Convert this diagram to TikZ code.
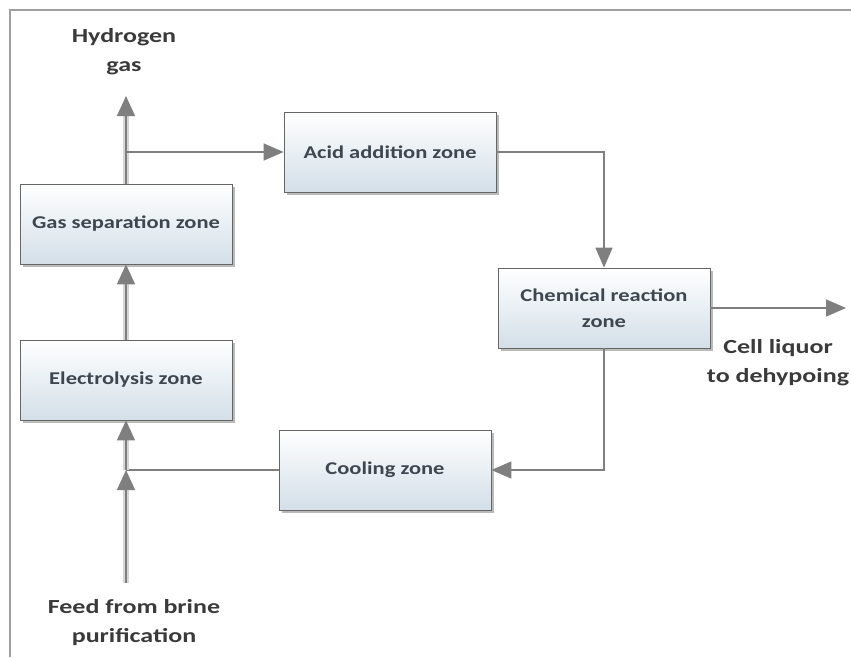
\documentclass[tikz,border=0pt]{standalone}
\usepackage{fontspec}
\setmainfont{Carlito}
\newfontfamily\boxfont[FakeStretch=1.25]{Carlito}
\newfontfamily\lblfont[FakeStretch=1.3]{Carlito}
\usetikzlibrary{arrows.meta,shadows}
\definecolor{boxtxt}{HTML}{3E4750}
\definecolor{lbltxt}{HTML}{3A3A3A}
\definecolor{boxbot}{HTML}{D3DFE8}
\definecolor{linegray}{HTML}{7F7F7F}
\begin{document}
\begin{tikzpicture}[x=1pt,y=-1pt,
  zone/.style={draw=gray!80!black, line width=0.8pt, top color=white, bottom color=boxbot,
    drop shadow={shadow xshift=2.5pt, shadow yshift=-3pt, fill=black!45, opacity=0.6},
    minimum width=212pt, minimum height=80pt, align=center,
    font=\boxfont\bfseries\fontsize{18}{26}\selectfont, text=boxtxt, inner sep=2pt},
  lbl/.style={align=center, font=\lblfont\bfseries\fontsize{20}{29}\selectfont, text=lbltxt},
  flow/.style={draw=linegray, line width=1.5pt, -{Triangle[length=20pt,width=17pt]}},
  link/.style={draw=linegray, line width=1.5pt},
  main/.style={draw=linegray, line width=1.6pt, -{Triangle[length=20pt,width=18pt]},
    preaction={draw=gray!32, line width=6pt, -, shorten >=16pt}}]
\useasboundingbox (0,0) rectangle (851,657);
\draw[gray!75, line width=1.5pt] (10,657) -- (10,10) -- (851,10);

\node[zone] (gas) at (126,224) {Gas separation zone};
\node[zone] (elec) at (126,380) {Electrolysis zone};
\node[zone] (acid) at (390,152) {Acid addition zone};
\node[zone] (chem) at (604,308) {Chemical reaction\\zone};
\node[zone] (cool) at (385,470) {Cooling zone};

\node[lbl] (hyd) at (124,52) {Hydrogen\\gas};
\node[lbl] (cell) at (778,363) {Cell liquor\\to dehypoing};
\node[lbl] (feedlbl) at (134,623) {Feed from brine\\purification};

\coordinate (hy) at (126,96);
\coordinate (j1) at (126,152);
\coordinate (j2) at (126,470);
\coordinate (feed) at (126,583);
\coordinate (out) at (846,308);

\draw[main] (gas.north) -- (hy);
\draw[flow] (j1) -- (acid.west);
\draw[flow] (acid.east) -| (chem.north);
\draw[flow] (chem.east) -- (out);
\draw[flow] (chem.south) |- (cool.east);
\draw[link] (cool.west) -- (j2);
\draw[main] (feed) -- (j2);
\draw[main] (j2) -- (elec.south);
\draw[main] (elec.north) -- (gas.south);
\end{tikzpicture}
\end{document}
